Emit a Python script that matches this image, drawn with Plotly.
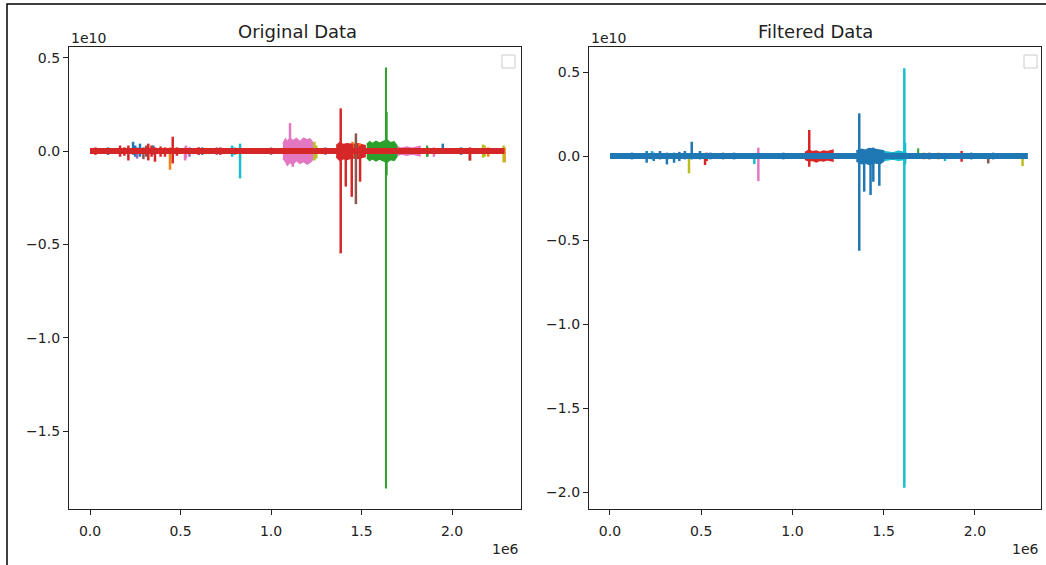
import plotly.graph_objects as go

W, H = 1046, 565

# ---------------- data (x in units of 1e6, y in units of 1e10) ----------------
x_ticks = [0.0, 0.5, 1.0, 1.5, 2.0]
x_tick_labels = ["0.0", "0.5", "1.0", "1.5", "2.0"]
y_ticks_orig = [-1.5, -1.0, -0.5, 0.0, 0.5]
y_ticks_filt = [-2.0, -1.5, -1.0, -0.5, 0.0, 0.5]

baseline_x = [0.0, 2.29]
baseline_y = [0.0, 0.0]

# Original data: spikes per series  (x, high, low)
orig_spikes = {
    "#1f77b4": ([0.10, 0.238, 0.25, 0.276, 0.35, 0.62, 1.949, 2.05],
                [0.02, 0.05, 0.03, 0.04, 0.03, 0.02, 0.04, 0.02],
                [-0.02, -0.02, -0.03, -0.03, -0.02, -0.02, -0.01, -0.02]),
    "#ff7f0e": ([0.442, 1.45, 1.49, 2.20, 2.29], [0.02, 0.05, 0.04, 0.02, 0.02], [-0.10, -0.03, -0.02, -0.03, -0.06]),
    "#9467bd": ([0.26, 0.55, 0.70, 1.30], [0.02, 0.02, 0.02, 0.02], [-0.04, -0.03, -0.02, -0.02]),
    "#8c564b": ([0.295, 0.31, 1.469, 2.099], [0.02, 0.03, 0.095, 0.01], [-0.043, -0.03, -0.284, -0.05]),
    "#7f7f7f": ([0.60, 1.00, 0.95], [0.02, 0.02, 0.015], [-0.02, -0.02, -0.015]),
    "#e377c2": ([0.525, 0.53, 1.105, 1.12, 1.90], [0.02, 0.03, 0.15, 0.06, 0.02], [-0.05, -0.04, -0.03, -0.084, -0.03]),
    "#17becf": ([0.785, 0.80, 0.829], [0.03, 0.02, 0.04], [-0.03, -0.02, -0.146]),
    "#bcbd22": ([1.24, 1.25, 2.171, 2.18, 2.285], [0.05, 0.03, 0.035, 0.03, 0.03], [-0.05, -0.04, -0.035, -0.03, -0.06]),
    "#2ca02c": ([1.635, 1.639, 1.862, 1.865], [0.448, 0.21, 0.03, 0.02], [-1.808, -0.13, -0.03, -0.03]),
    "#d62728": ([0.03, 0.166, 0.19, 0.212, 0.322, 0.34, 0.359, 0.39, 0.414, 0.457, 0.48, 0.60, 0.72,
                 1.385, 1.413, 1.446, 1.492, 2.099],
                [0.02, 0.03, 0.02, 0.03, 0.04, 0.03, 0.02, 0.025, 0.02, 0.077, 0.02, 0.02, 0.02,
                 0.229, 0.03, 0.04, 0.03, 0.02],
                [-0.02, -0.03, -0.025, -0.05, -0.05, -0.03, -0.057, -0.03, -0.03, -0.066, -0.025, -0.02, -0.02,
                 -0.548, -0.19, -0.245, -0.164, -0.05]),
}
# Original data: dense noisy stretches, envelope (x, y)
orig_bands = {
    "#e377c2": [
        ([1.066, 1.08, 1.09, 1.105, 1.12, 1.14, 1.16, 1.18, 1.20, 1.215, 1.232,
          1.232, 1.215, 1.20, 1.18, 1.16, 1.14, 1.12, 1.105, 1.09, 1.08, 1.066],
         [0.04, 0.065, 0.05, 0.07, 0.055, 0.068, 0.05, 0.07, 0.06, 0.065, 0.045,
          -0.045, -0.06, -0.07, -0.055, -0.065, -0.05, -0.07, -0.06, -0.075, -0.055, -0.04]),
        ([1.69, 1.72, 1.75, 1.78, 1.823, 1.823, 1.78, 1.75, 1.72, 1.69],
         [0.025, 0.015, 0.022, 0.015, 0.025, -0.025, -0.015, -0.022, -0.015, -0.025]),
    ],
    "#2ca02c": [
        ([1.529, 1.545, 1.56, 1.58, 1.60, 1.62, 1.64, 1.66, 1.68, 1.695,
          1.695, 1.68, 1.66, 1.64, 1.62, 1.60, 1.58, 1.56, 1.545, 1.529],
         [0.035, 0.05, 0.04, 0.052, 0.042, 0.05, 0.06, 0.045, 0.05, 0.03,
          -0.03, -0.05, -0.045, -0.06, -0.05, -0.042, -0.052, -0.04, -0.05, -0.035]),
    ],
    "#d62728": [
        ([1.36, 1.38, 1.40, 1.42, 1.45, 1.48, 1.52, 1.52, 1.48, 1.45, 1.42, 1.40, 1.38, 1.36],
         [0.03, 0.045, 0.035, 0.04, 0.035, 0.04, 0.03, -0.03, -0.04, -0.035, -0.045, -0.04, -0.05, -0.03]),
    ],
}

# Filtered data: spikes per series  (x, high, low)
filt_spikes = {
    "#ff7f0e": ([1.72, 1.80], [0.02, 0.02], [-0.02, -0.02]),
    "#8c564b": ([1.75, 2.073, 0.62], [0.02, 0.01, 0.02], [-0.02, -0.044, -0.02]),
    "#2ca02c": ([1.689], [0.046], [-0.01]),
    "#e377c2": ([0.813], [0.05], [-0.149]),
    "#bcbd22": ([0.433, 2.261], [0.01, 0.01], [-0.103, -0.06]),
    "#d62728": ([0.521, 0.53, 1.092, 1.927], [0.01, 0.02, 0.155, 0.03], [-0.054, -0.03, -0.064, -0.034]),
    "#17becf": ([0.23, 0.791, 1.613, 1.617, 1.836], [0.03, 0.01, 0.522, 0.08, 0.01], [-0.02, -0.048, -1.974, -0.05, -0.03]),
    "#1f77b4": ([0.12, 0.201, 0.24, 0.274, 0.312, 0.351, 0.38, 0.41, 0.448, 0.493, 0.55, 0.68, 0.95,
                 1.366, 1.393, 1.428, 1.443, 1.476, 1.55, 1.98, 2.10],
                [0.02, 0.03, 0.02, 0.03, 0.02, 0.02, 0.025, 0.03, 0.085, 0.03, 0.02, 0.02, 0.02,
                 0.254, 0.03, 0.048, 0.05, 0.03, 0.02, 0.02, 0.02],
                [-0.02, -0.04, -0.03, -0.02, -0.05, -0.04, -0.03, -0.02, -0.02, -0.02, -0.02, -0.02, -0.02,
                 -0.564, -0.212, -0.232, -0.153, -0.177, -0.02, -0.02, -0.02]),
}
filt_bands = {
    "#d62728": [
        ([1.068, 1.09, 1.11, 1.13, 1.15, 1.17, 1.19, 1.222, 1.222, 1.19, 1.17, 1.15, 1.13, 1.11, 1.09, 1.068],
         [0.02, 0.035, 0.025, 0.03, 0.022, 0.03, 0.025, 0.035, -0.03, -0.022, -0.03, -0.025, -0.035, -0.025, -0.03, -0.02]),
    ],
    "#17becf": [
        ([1.48, 1.51, 1.55, 1.58, 1.62, 1.62, 1.58, 1.55, 1.51, 1.48],
         [0.02, 0.025, 0.018, 0.028, 0.02, -0.02, -0.025, -0.018, -0.025, -0.02]),
    ],
    "#1f77b4": [
        ([1.35, 1.38, 1.40, 1.42, 1.45, 1.48, 1.50, 1.50, 1.48, 1.45, 1.42, 1.40, 1.38, 1.35],
         [0.03, 0.04, 0.035, 0.045, 0.04, 0.035, 0.03, -0.03, -0.045, -0.04, -0.05, -0.04, -0.045, -0.03]),
    ],
}

# ---------------- figure ----------------
fig = go.Figure()


def add_panel(spikes, bands, base_color, xa, ya):
    for color, polys in bands.items():
        for bx, by in polys:
            fig.add_trace(go.Scatter(x=bx, y=by, fill="toself", fillcolor=color,
                                     mode="lines", line=dict(color=color, width=1.5),
                                     xaxis=xa, yaxis=ya, showlegend=False, hoverinfo="skip"))
    for color, (xs, his, los) in spikes.items():
        px, py = [], []
        for x, hi, lo in zip(xs, his, los):
            px += [x, x, None]
            py += [hi, lo, None]
        fig.add_trace(go.Scatter(x=px, y=py, mode="lines",
                                 line=dict(color=color, width=2.5 if color != "#2ca02c" else 2),
                                 xaxis=xa, yaxis=ya, showlegend=False, hoverinfo="skip"))
    fig.add_trace(go.Scatter(x=baseline_x, y=baseline_y, mode="lines",
                             line=dict(color=base_color, width=6),
                             xaxis=xa, yaxis=ya, showlegend=False, hoverinfo="skip"))


add_panel(orig_spikes, orig_bands, "#d62728", "x", "y")
add_panel(filt_spikes, filt_bands, "#1f77b4", "x2", "y2")

font_family = "DejaVu Sans"
tick_font = dict(family=font_family, size=14, color="#222222")


def fmt(v):
    s = f"{v:.1f}"
    return s.replace("-", "\u2212")


axis_common = dict(showgrid=False, zeroline=False, showline=True, mirror=True,
                   linecolor="#222222", linewidth=1.2, ticks="outside", ticklen=5,
                   tickwidth=1, tickcolor="#222222", tickfont=tick_font)

fig.update_layout(
    width=W, height=H, margin=dict(l=0, r=0, t=0, b=0),
    paper_bgcolor="white", plot_bgcolor="white",
    xaxis=dict(domain=[69 / W, 521 / W], range=[-0.116, 2.381], tickvals=x_ticks,
               ticktext=x_tick_labels, anchor="y", ticklabelstandoff=4, **axis_common),
    yaxis=dict(domain=[1 - 509 / H, 1 - 47 / H], range=[-1.918, 0.558], tickvals=y_ticks_orig,
               ticktext=[fmt(v) for v in y_ticks_orig], anchor="x", **axis_common),
    xaxis2=dict(domain=[589 / W, 1041 / W], range=[-0.115, 2.362], tickvals=x_ticks,
                ticktext=x_tick_labels, anchor="y2", ticklabelstandoff=4, **axis_common),
    yaxis2=dict(domain=[1 - 509 / H, 1 - 47 / H], range=[-2.101, 0.649], tickvals=y_ticks_filt,
                ticktext=[fmt(v) for v in y_ticks_filt], anchor="x2", **axis_common),
)

titles = [("Original Data", (69 + 521) / 2 + 2), ("Filtered Data", (589 + 1041) / 2)]
for text, cx in titles:
    fig.add_annotation(text=text, x=cx / W, y=1 - 31 / H, xref="paper", yref="paper",
                       showarrow=False, xanchor="center", yanchor="middle",
                       font=dict(family=font_family, size=18, color="#222222"))
for xl in (69, 589):
    fig.add_annotation(text="1e10", x=xl / W, y=1 - 38 / H, xref="paper", yref="paper",
                       showarrow=False, xanchor="left", yanchor="middle", font=tick_font)
for xr in (521, 1041):
    fig.add_annotation(text="1e6", x=xr / W, y=1 - 549 / H, xref="paper", yref="paper",
                       showarrow=False, xanchor="right", yanchor="middle", font=tick_font)

# empty legend boxes
for lx in (502, 1024):
    fig.add_shape(type="rect", xref="paper", yref="paper",
                  x0=lx / W, x1=(lx + 13) / W, y0=1 - 68 / H, y1=1 - 55 / H,
                  line=dict(color="#cccccc", width=1), fillcolor="white")
# screenshot border
fig.add_shape(type="rect", xref="paper", yref="paper",
              x0=7 / W, x1=1.02, y0=-0.02, y1=1 - 4 / H,
              line=dict(color="black", width=1.5))

fig.write_html("out.html")
